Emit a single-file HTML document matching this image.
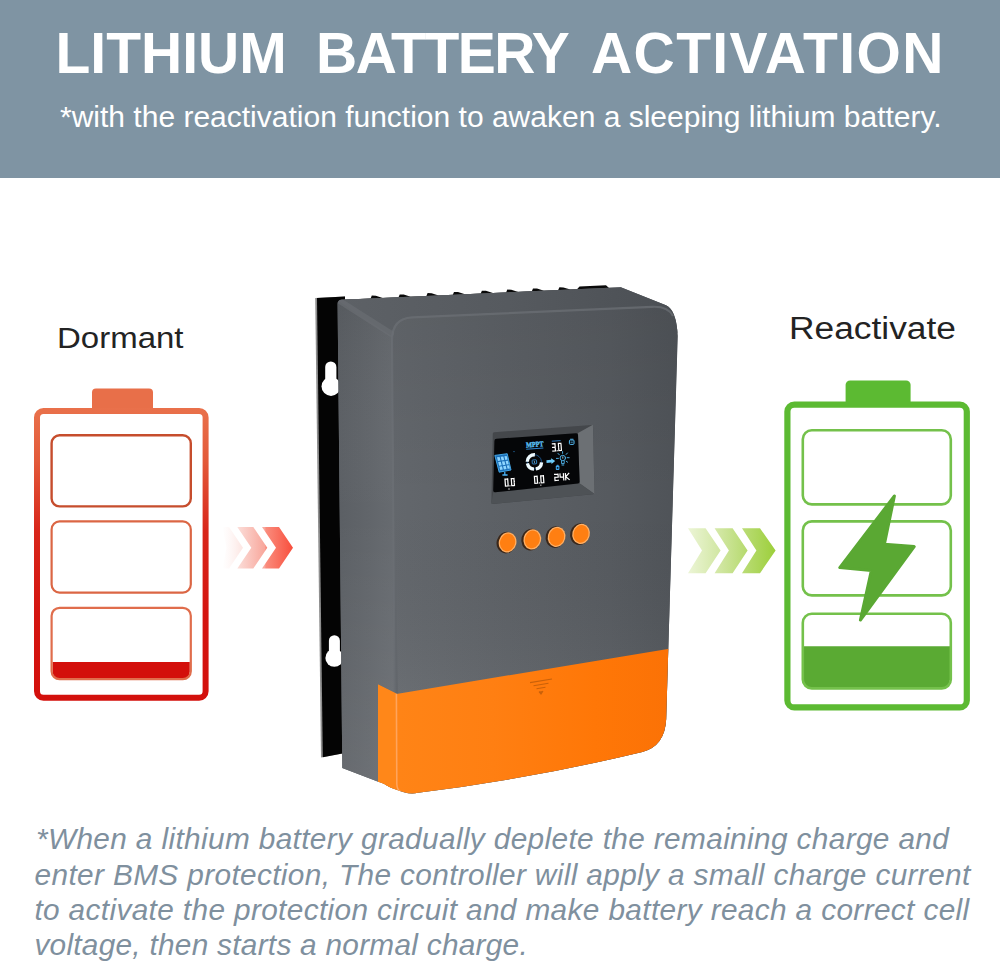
<!DOCTYPE html>
<html>
<head>
<meta charset="utf-8">
<title>Lithium Battery Activation</title>
<style>
html,body{margin:0;padding:0;background:#fff;}
body{width:1000px;height:970px;overflow:hidden;position:relative;font-family:"Liberation Sans",sans-serif;}
#hdr{position:absolute;left:0;top:0;width:1000px;height:178px;background:#7f94a3;}
#title{position:absolute;left:0;top:20.7px;margin:0;font-size:57px;line-height:64px;font-weight:bold;color:#fff;white-space:nowrap;}
#title span{position:absolute;top:0;display:block;}
#t1{left:55.5px;letter-spacing:0px;}
#t2{left:316px;letter-spacing:-1.5px;}
#t3{left:591px;letter-spacing:1.4px;}
#sub{position:absolute;left:60px;top:99px;margin:0;font-size:30px;line-height:36px;color:#fff;white-space:nowrap;}
.lbl{position:absolute;margin:0;font-size:30px;line-height:36px;color:#232323;white-space:nowrap;}
#l1{left:56.6px;top:320px;font-size:30px;transform:scaleX(1.10);transform-origin:0 0;}
#l2{left:788.8px;top:311.4px;font-size:31px;transform:scaleX(1.14);transform-origin:0 0;}
#foot{position:absolute;left:0;top:0;margin:0;font-size:29.8px;font-style:italic;color:#7f909e;white-space:nowrap;}
.fl{position:absolute;display:block;line-height:34px;}
#f1{left:36px;top:822.3px;letter-spacing:0.36px;}
#f2{left:34.6px;top:857.7px;letter-spacing:0.36px;}
#f3{left:34.4px;top:893.1px;letter-spacing:0.36px;}
#f4{left:34.4px;top:928.2px;letter-spacing:0.27px;}
#art{position:absolute;left:0;top:0;}
</style>
</head>
<body>
<div id="hdr"></div>
<h1 id="title"><span id="t1">LITHIUM</span><span id="t2">BATTERY</span><span id="t3">ACTIVATION</span></h1>
<p id="sub">*with the reactivation function to awaken a sleeping lithium battery.</p>
<p class="lbl" id="l1">Dormant</p>
<p class="lbl" id="l2">Reactivate</p>
<svg id="art" width="1000" height="970" viewBox="0 0 1000 970">
<!--ART1-->
<defs>
<linearGradient id="gR" x1="0" y1="408" x2="0" y2="701" gradientUnits="userSpaceOnUse">
<stop offset="0" stop-color="#e9714b"/><stop offset="0.18" stop-color="#e35a3a"/><stop offset="0.42" stop-color="#d8261a"/><stop offset="0.7" stop-color="#d41510"/><stop offset="1" stop-color="#d3100c"/>
</linearGradient>
<linearGradient id="gRc" x1="0" y1="434" x2="0" y2="681" gradientUnits="userSpaceOnUse">
<stop offset="0" stop-color="#c24a2b"/><stop offset="0.28" stop-color="#c9512f"/><stop offset="0.36" stop-color="#dc6846"/><stop offset="1" stop-color="#e2704e"/>
</linearGradient>
<linearGradient id="gCr" x1="222" y1="0" x2="293" y2="0" gradientUnits="userSpaceOnUse">
<stop offset="0" stop-color="#fde9e6" stop-opacity="0"/><stop offset="0.25" stop-color="#fbd9d4"/><stop offset="0.6" stop-color="#f8a79c"/><stop offset="0.62" stop-color="#fa8c7d"/><stop offset="1" stop-color="#f84e3c"/>
</linearGradient>
<linearGradient id="gCg" x1="688" y1="0" x2="776" y2="0" gradientUnits="userSpaceOnUse">
<stop offset="0" stop-color="#ecf5d6"/><stop offset="0.35" stop-color="#d2e7a4"/><stop offset="0.65" stop-color="#b8db72"/><stop offset="1" stop-color="#9ccf3a"/>
</linearGradient>
</defs>
<!-- red battery -->
<g id="batR">
<rect x="92" y="388.5" width="61" height="24" rx="4" fill="#e86f49"/>
<rect x="37" y="411" width="168.6" height="286.8" rx="6.5" fill="#fff" stroke="url(#gR)" stroke-width="6"/>
<rect x="51.6" y="435.2" width="139.2" height="71.2" rx="8" fill="none" stroke="#c64d2d" stroke-width="2.4"/>
<rect x="51.6" y="521.4" width="139.2" height="71.2" rx="8" fill="none" stroke="#db6644" stroke-width="2.2"/>
<path d="M52.6 662H189.8V671.5a8 8 0 0 1 -8 8H60.6a8 8 0 0 1 -8 -8Z" fill="#d30f0b"/>
<rect x="51.6" y="607.8" width="139.2" height="71.4" rx="8" fill="none" stroke="#e06d4c" stroke-width="2.2"/>
</g>
<!-- red chevrons -->
<g fill="url(#gCr)">
<path d="M222.5 527H229l14 20.7-14 20.8H222.5l4 -20.8Z" opacity="0.55"/>
<path d="M237.3 527H253.3l14 20.7-14 20.8H237.3l14 -20.8Z"/>
<path d="M262 527H279l14 20.7-14 20.8H262l14 -20.8Z"/>
</g>
<!-- green chevrons -->
<g fill="url(#gCg)">
<path d="M688 528.2H705.6l15 22.4-15 22.6H688l14 -22.6Z"/>
<path d="M714.6 528.2H732.6l15 22.4-15 22.6H714.6l14.3 -22.6Z"/>
<path d="M742 528.2H760l15.6 22.4-15.6 22.6H742l14.4 -22.6Z"/>
</g>
<!-- green battery -->
<g id="batG">
<rect x="845.6" y="380.5" width="65" height="26" rx="4.5" fill="#5cba32"/>
<rect x="787.4" y="404.6" width="179.4" height="302.8" rx="7" fill="#fff" stroke="#5cba32" stroke-width="6.2"/>
<rect x="802.8" y="430.2" width="148" height="74.2" rx="9" fill="none" stroke="#74c14b" stroke-width="2.6"/>
<rect x="802.8" y="521.4" width="148" height="74" rx="9" fill="none" stroke="#74c14b" stroke-width="2.6"/>
<path d="M803.6 646.2H950V679.5a9 9 0 0 1 -9 9H812.6a9 9 0 0 1 -9 -9Z" fill="#5aaa33"/>
<rect x="802.8" y="613.8" width="148" height="74.6" rx="9" fill="none" stroke="#74c14b" stroke-width="2.6"/>
<path d="M894.4 496L839.8 567.6 871.4 570.4 860.4 620 914.2 546.6 884.4 544.2Z" fill="#5aa833" stroke="#5aa833" stroke-width="3" stroke-linejoin="round"/>
</g>
<!--/ART1-->
<!--ART2-->
<defs>
<linearGradient id="gBody" x1="338" y1="0" x2="678" y2="0" gradientUnits="userSpaceOnUse">
<stop offset="0" stop-color="#5d6166"/><stop offset="0.16" stop-color="#63676c"/><stop offset="0.45" stop-color="#5d6166"/><stop offset="0.8" stop-color="#565a5f"/><stop offset="1" stop-color="#4f5358"/>
</linearGradient>
<linearGradient id="gBodyV" x1="0" y1="300" x2="0" y2="700" gradientUnits="userSpaceOnUse">
<stop offset="0" stop-color="#000" stop-opacity="0.06"/><stop offset="0.5" stop-color="#000" stop-opacity="0"/><stop offset="1" stop-color="#fff" stop-opacity="0.05"/>
</linearGradient>
<linearGradient id="gSide" x1="338" y1="0" x2="394" y2="0" gradientUnits="userSpaceOnUse">
<stop offset="0" stop-color="#5b5f64"/><stop offset="0.6" stop-color="#62666b"/><stop offset="1" stop-color="#676b70"/>
</linearGradient>
<linearGradient id="gSideV" x1="0" y1="300" x2="0" y2="780" gradientUnits="userSpaceOnUse"><stop offset="0" stop-color="#000" stop-opacity="0.05"/><stop offset="0.45" stop-color="#fff" stop-opacity="0"/><stop offset="1" stop-color="#fff" stop-opacity="0.07"/></linearGradient>
<linearGradient id="gTop" x1="340" y1="0" x2="676" y2="0" gradientUnits="userSpaceOnUse">
<stop offset="0" stop-color="#5d6166"/><stop offset="0.5" stop-color="#565a5f"/><stop offset="1" stop-color="#4b4f54"/>
</linearGradient>
<linearGradient id="gOr" x1="378" y1="0" x2="668" y2="0" gradientUnits="userSpaceOnUse">
<stop offset="0" stop-color="#ff8517"/><stop offset="0.4" stop-color="#ff7f12"/><stop offset="0.75" stop-color="#ff7707"/><stop offset="1" stop-color="#fb7206"/>
</linearGradient>
<radialGradient id="gBtn" cx="0.45" cy="0.45" r="0.6">
<stop offset="0" stop-color="#ff8a1a"/><stop offset="0.8" stop-color="#ff8c20"/><stop offset="1" stop-color="#ffa552"/>
</radialGradient>
<clipPath id="cBody"><path d="M337.6 304a4 4 0 0 1 4 -4.3L620.8 287.2 666 305.2Q676.5 310 677.7 336L666.2 719Q665 746 642.3 752Q530 779 418 792.8Q411 794.2 404 792.2Q392 788.6 387.2 785.7Q381 782 378.9 782L342.3 768Z"/></clipPath>
</defs>
<g id="dev">
<!-- back plate -->
<path d="M315.2 298L345 296.6 345 753 321 757.6Z" fill="#8e8e8e"/>
<path d="M317 297.9L345 296.6 345 753 322.8 757.2Z" fill="#040404"/>
<!-- fins -->
<path d="M345.0 299.7 370.6 298.4 371.8 295.6 375.8 295.7 382.8 297.9 398.5 297.2 399.7 294.4 403.7 294.5 410.7 296.7 426.4 295.9 427.6 293.1 431.6 293.3 438.6 295.4 452.8 294.7 454.0 291.9 458.0 292.1 465.0 294.3 480.7 293.5 481.9 290.7 485.9 290.8 492.9 293.0 506.1 292.4 507.3 289.6 511.3 289.7 518.3 291.9 531.8 291.2 533.0 288.4 537.0 288.5 544.0 290.7 558.2 290.0 559.4 287.2 563.4 287.4 570.4 289.5 577.0 289.3 579.5 286.4 606.0 285.2 609.0 287.9 622.0 288.1 622.0 294.0 345.0 306.0Z" fill="#0a0a0a"/>
<!-- keyholes -->
<g fill="#fff">
<rect x="325.2" y="361.4" width="11.2" height="27" rx="5.6"/><circle cx="331" cy="386.4" r="9.5"/>
<rect x="328.9" y="635.2" width="11" height="25" rx="5.5"/><circle cx="334.3" cy="657.9" r="8.9"/>
</g>
<!-- body silhouette -->
<path d="M337.6 304a4 4 0 0 1 4 -4.3L620.8 287.2 666 305.2Q676.5 310 677.7 336L666.2 719Q665 746 642.3 752Q530 779 418 792.8Q411 794.2 404 792.2Q392 788.6 387.2 785.7Q381 782 378.9 782L342.3 768Z" fill="url(#gBody)"/>
<g clip-path="url(#cBody)">
<!-- side face -->
<path d="M337 298L394 300 394 800 337 800Z" fill="url(#gSide)"/>
<path d="M337 298L394 300 394 800 337 800Z" fill="url(#gSideV)"/>
<!-- top face -->
<path d="M337 285L680 280 680 336 655.5 306.2 412 317 391.5 336 337 300Z" fill="url(#gTop)"/>
<!-- front face -->
<path d="M391.8 338Q392 318 412 317L652 306.4Q676.5 305 677.7 336L666 760 400 800Z" fill="url(#gBody)"/>
<path d="M391.8 338Q392 318 412 317L652 306.4Q676.5 305 677.7 336L666 760 400 800Z" fill="url(#gBodyV)"/>
<!-- ridge highlights -->
<path d="M337 299.2L391 333.6" stroke="#6d7176" stroke-width="6" opacity="0.55" fill="none" stroke-linecap="round"/>
<path d="M394.6 700L392 340Q392 318.6 412 317.4L652 306.8Q668 306 673 316" stroke="#6b6f74" stroke-width="2.2" opacity="0.75" fill="none"/>
<!-- orange -->
<path d="M378 684.5L396.4 693.9 667.8 648.9 700 640 700 800 378 800Z" fill="url(#gOr)"/>
<path d="M378 684.5L396.4 693.6 396.4 800 378 800Z" fill="#ff8719"/>
<path d="M396.4 693.8L396.8 784Q397 790 401 792" stroke="#ffa45c" stroke-width="1.6" fill="none"/>
</g>
<!-- orange emblem -->
<g stroke="#c9610a" stroke-width="1.1" fill="none">
<path d="M530 682.6L552 679"/><path d="M533.5 685.8L548.5 683.3"/><path d="M536.5 688.8L545.5 687.3"/><path d="M539 691.6L541 694 543 691" fill="#c9610a"/>
</g>
<!-- LCD bezel -->
<path d="M494 432.2L591.5 424.9Q593 424.8 593 426.4L594.5 492.6Q594.5 494.1 593 494.3L493 503.9Q491.4 504 491.4 502.5L492.8 433.6Q492.8 432.3 494 432.2Z" fill="#44474b"/>
<path d="M578 433.1L592.9 424.8 594.5 494.1 579.7 483.4Z" fill="#6c7074"/>
<path d="M493.1 492.5L579.7 483.4 594.5 494.1 491.4 504Z" fill="#4e5256"/>
<path d="M496.5 438.8L576 433.3Q578 433.1 578 435L579.6 481.5Q579.7 483.3 577.8 483.5L495.2 492.3Q493.2 492.5 493.2 490.5L494.4 440.9Q494.4 438.9 496.5 438.8Z" fill="#050608"/>
<!-- LCD content -->
<g id="lcd">
<!-- solar panel -->
<path d="M494.8 455.4L507.2 453.7 511 470 499.2 472.2Z" fill="#1b6fb8" stroke="#49b2f5" stroke-width="0.9"/>
<g fill="#8fd6ff">
<path d="M497 457.3l2.6-.36.9 3.6-2.6.4z M500.7 456.8l2.6-.36.9 3.6-2.6.4z M504.4 456.3l2.3-.32.9 3.6-2.3.36z"/>
<path d="M498.2 462.1l2.6-.4.9 3.5-2.6.44z M501.9 461.6l2.6-.4.9 3.5-2.6.44z M505.6 461l2.3-.36.9 3.5-2.3.4z"/>
<path d="M499.4 466.8l2.6-.44.8 3.2-2.6.48z M503.1 466.2l2.6-.44.8 3.2-2.6.48z M506.8 465.6l2.3-.4.8 3.2-2.3.44z"/>
</g>
<path d="M504.8 472V474.6M502.4 475H507.6" stroke="#49b2f5" stroke-width="1.3" fill="none"/>
<circle cx="514" cy="451.6" r="0.6" fill="#2b7fc8"/>
<!-- MPPT -->
<text x="526" y="446.9" font-family="Liberation Serif, serif" font-size="7.4" font-weight="bold" fill="#5cc1f6" stroke="#5cc1f6" stroke-width="0.35" textLength="17.6" lengthAdjust="spacingAndGlyphs" transform="rotate(-4 534 445)">MPPT</text>
<path d="M526.2 449.2L543.4 448" stroke="#2f86cf" stroke-width="1.1"/>
<!-- donut -->
<g transform="rotate(-4 534.4 461.9)" fill="none">
<circle cx="534.4" cy="461.9" r="7.1" stroke="#1c5f9e" stroke-width="0.8"/>
<path d="M527.3 461.2A7.15 7.15 0 0 1 535.4 454.8" stroke="#eefaff" stroke-width="3.3"/>
<path d="M541.5 462.8A7.15 7.15 0 0 1 535.3 469" stroke="#eefaff" stroke-width="3.3"/>
<path d="M533.5 469A7.15 7.15 0 0 1 527.3 462.9" stroke="#eefaff" stroke-width="3.3"/>
<rect x="532.2" y="459.9" width="4.4" height="4" rx="0.7" stroke="#3a9be8" stroke-width="0.8"/>
<path d="M534.4 461V463" stroke="#8fd6ff" stroke-width="0.7"/>
</g>
<!-- arrow -->
<path d="M546.4 460.2L551.2 459.8 551.1 458.2 555.2 460.9 551.5 464 551.4 462.5 546.6 462.9Z" fill="#6ccbf9"/>
<!-- 3.0 label -->
<path d="M551.8 441.2L560.6 440.6" stroke="#2f86cf" stroke-width="0.9"/>
<!-- sun/bulb -->
<g stroke="#55bdf7" stroke-width="0.9" fill="none" stroke-linecap="round">
<circle cx="562.8" cy="458" r="2.7"/>
<path d="M562.6 451.6V453.4M558 453.4L559.4 454.9M567.4 453L566.1 454.5M556.4 458.4H558.4M567.2 457.7H569.2M567.6 462.2L566.2 461.2"/>
<path d="M561.6 461V463.6H564.2V460.9M562 465H563.8" />
</g>
<path d="M562.8 456.4V458.6" stroke="#bfe9ff" stroke-width="0.8"/>
<rect x="555.8" y="465.6" width="3.6" height="4.4" rx="0.9" fill="#3fa9f0"/>
<rect x="556.8" y="464.8" width="1.6" height="1" fill="#3fa9f0"/>
<rect x="556.8" y="467" width="1.6" height="1.8" fill="#0a1a2a"/>
<!-- top right icon -->
<rect x="569.4" y="440" width="4.6" height="4.4" rx="0.9" fill="none" stroke="#55bdf7" stroke-width="1"/>
<path d="M570.2 439.2H573.4M570.6 442.2H572.8" stroke="#55bdf7" stroke-width="0.8"/>
<g transform="rotate(-4 510 482)"><path d="M505.20 478.80L507.90 478.80M507.90 478.80L507.90 482.30M507.90 482.30L507.90 485.80M505.20 485.80L507.90 485.80M505.20 482.30L505.20 485.80M505.20 478.80L505.20 482.30M511.50 478.80L514.20 478.80M514.20 478.80L514.20 482.30M514.20 482.30L514.20 485.80M511.50 485.80L514.20 485.80M511.50 482.30L511.50 485.80M511.50 478.80L511.50 482.30" stroke="#fff" stroke-width="1.25" fill="none" stroke-linecap="square"/><g fill="#fff"><rect x="509.10" y="485.20" width="1.2" height="1.2"/></g></g>
<rect x="508.4" y="488.4" width="1.2" height="1.2" fill="#fff"/>
<g transform="rotate(-4 539 479)"><path d="M534.60 476.00L537.30 476.00M537.30 476.00L537.30 479.50M537.30 479.50L537.30 483.00M534.60 483.00L537.30 483.00M534.60 479.50L534.60 483.00M534.60 476.00L534.60 479.50M540.90 476.00L543.60 476.00M543.60 476.00L543.60 479.50M543.60 479.50L543.60 483.00M540.90 483.00L543.60 483.00M540.90 479.50L540.90 483.00M540.90 476.00L540.90 479.50" stroke="#fff" stroke-width="1.25" fill="none" stroke-linecap="square"/><g fill="#fff"><rect x="538.50" y="482.40" width="1.2" height="1.2"/></g></g>
<rect x="540.3" y="484.6" width="1.1" height="1.1" fill="#fff"/>
<g transform="rotate(-4 556.5 447)"><path d="M552.60 443.60L555.20 443.60M555.20 443.60L555.20 447.20M552.60 447.20L555.20 447.20M555.20 447.20L555.20 450.80M552.60 450.80L555.20 450.80M558.60 443.60L561.20 443.60M561.20 443.60L561.20 447.20M561.20 447.20L561.20 450.80M558.60 450.80L561.20 450.80M558.60 447.20L558.60 450.80M558.60 443.60L558.60 447.20" stroke="#fff" stroke-width="1.2" fill="none" stroke-linecap="square"/><g fill="#fff"><rect x="556.30" y="450.20" width="1.2" height="1.2"/></g></g>
<g transform="rotate(-4 562 477)"><path d="M554.80 473.80L558.20 473.80M558.20 473.80L558.20 476.90M554.80 476.90L558.20 476.90M554.80 476.90L554.80 480.00M554.80 480.00L558.20 480.00M560.20 473.80L560.20 476.90M560.20 476.90L563.60 476.90M563.60 473.80L563.60 476.90M563.60 476.90L563.60 480.00M565.60 473.80V480.00M569.00 473.80L565.80 476.90L569.00 480.00" stroke="#fff" stroke-width="1.2" fill="none" stroke-linecap="square"/><g fill="#fff"></g></g>
</g>
<!-- buttons -->
<g>
<g transform="rotate(14 507.4 542.3)"><ellipse cx="506.4" cy="542.8" rx="9.7" ry="10.9" fill="#3a271a"/><ellipse cx="507.6" cy="542.3" rx="8.8" ry="10.2" fill="#ffb066"/><ellipse cx="507.6" cy="542.3" rx="7.5" ry="8.9" fill="#ff7f12"/></g>
<g transform="rotate(14 532.1 539.4)"><ellipse cx="531.1" cy="539.9" rx="9.7" ry="10.9" fill="#3a271a"/><ellipse cx="532.3" cy="539.4" rx="8.8" ry="10.2" fill="#ffb066"/><ellipse cx="532.3" cy="539.4" rx="7.5" ry="8.9" fill="#ff7f12"/></g>
<g transform="rotate(14 556.4 536.8)"><ellipse cx="555.4" cy="537.3" rx="9.7" ry="10.9" fill="#3a271a"/><ellipse cx="556.6" cy="536.8" rx="8.8" ry="10.2" fill="#ffb066"/><ellipse cx="556.6" cy="536.8" rx="7.5" ry="8.9" fill="#ff7f12"/></g>
<g transform="rotate(14 580.9 533.9)"><ellipse cx="579.9" cy="534.4" rx="9.7" ry="10.9" fill="#3a271a"/><ellipse cx="581.1" cy="533.9" rx="8.8" ry="10.2" fill="#ffb066"/><ellipse cx="581.1" cy="533.9" rx="7.5" ry="8.9" fill="#ff7f12"/></g>
</g>
</g>
</g>
<!--/ART2-->
</svg>
<div id="foot"><span class="fl" id="f1">*When a lithium battery gradually deplete the remaining charge and</span><span class="fl" id="f2">enter BMS protection, The controller will apply a small charge current</span><span class="fl" id="f3">to activate the protection circuit and make battery reach a correct cell</span><span class="fl" id="f4">voltage, then starts a normal charge.</span></div>
</body>
</html>
